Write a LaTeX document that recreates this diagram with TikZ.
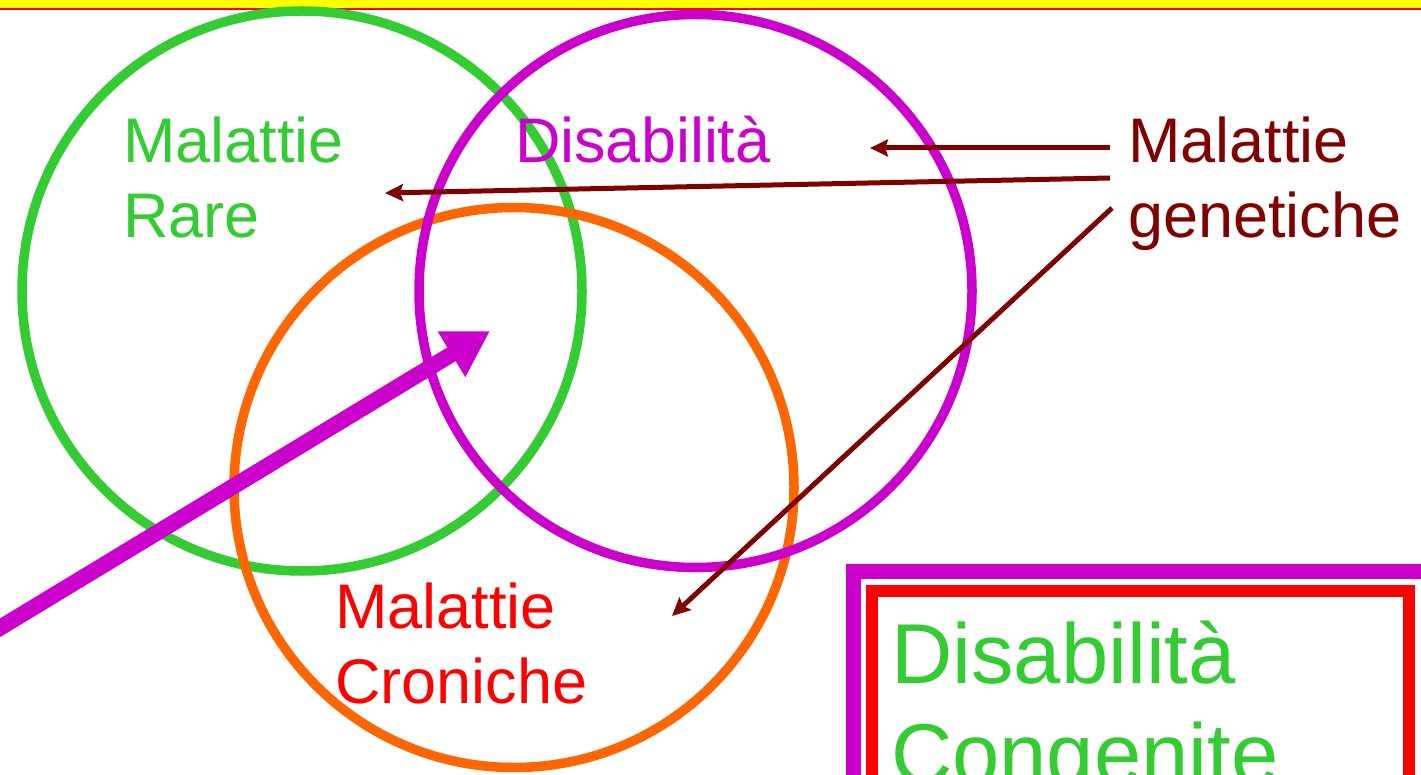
\documentclass[tikz,border=0pt]{standalone}
\usepackage{fontspec}
\setmainfont{Liberation Sans}
\usetikzlibrary{arrows.meta}
\definecolor{cgreen}{HTML}{33CC33}
\definecolor{cmag}{HTML}{CC00CC}
\definecolor{corange}{HTML}{FF6600}
\definecolor{cdred}{HTML}{800000}
\definecolor{cred}{HTML}{FF0000}
\definecolor{cyel}{HTML}{FFFF00}
\tikzset{
  ring/.style={line width=9.5pt},
  lbl/.style={anchor=base west, inner sep=0pt, outer sep=0pt, font=\fontsize{63}{75}\selectfont},
  biglbl/.style={anchor=base west, inner sep=0pt, outer sep=0pt, font=\fontsize{85}{100}\selectfont},
  genarrow/.style={draw=cdred, line width=5pt, -{Stealth[length=18pt,width=17pt,inset=3pt]}},
  bigarrow/.style={draw=cmag, line width=16pt, -{Triangle[length=45pt,width=50pt]}}
}
\begin{document}
\begin{tikzpicture}[x=1pt,y=-1pt]
\useasboundingbox (0,0) rectangle (1421,775);
\clip (0,0) rectangle (1421,775);
\fill[white] (0,0) rectangle (1421,775);
% top band
\fill[cyel] (0,0) rectangle (1421,8.5);
\draw[cred, line width=2.5pt] (0,9) -- (1421,9);
% circles
\draw[ring, cgreen] (302,291) circle[radius=280pt];
\draw[ring, corange] (514,487.5) circle[radius=280pt];
\draw[ring, cmag] (695.5,291) circle[radius=276.5pt];
% box
\draw[cmag, line width=15pt] (853,800) -- (853,571.5) -- (1440,571.5);
\draw[cred, line width=12pt] (872,800) -- (872,590.5) -- (1409,590.5) -- (1409,800);
% labels
\node[lbl, text=cgreen] (rare1) at (123,163) {Malattie};
\node[lbl, text=cgreen] (rare2) at (123,238) {Rare};
\node[lbl, text=cmag] (dis) at (515,163) {Disabilità};
\node[lbl, text=cdred] (gen1) at (1128,163) {Malattie};
\node[lbl, text=cdred] (gen2) at (1128,238) {genetiche};
\node[lbl, text=cred] (cron1) at (335,628) {Malattie};
\node[lbl, text=cred] (cron2) at (335,703) {Croniche};
\node[biglbl, text=cgreen] (cong1) at (891,683) {Disabilità};
\node[biglbl, text=cgreen] (cong2) at (891,783) {Congenite};
% arrows
\coordinate (g1) at (1110,148);
\coordinate (g2) at (1110,178);
\coordinate (g3) at (1112,208);
\coordinate (t1) at (870,148);
\coordinate (t2) at (385,193);
\coordinate (t3) at (672,616);
\draw[genarrow] (g1) -- (t1);
\draw[genarrow] (g2) -- (t2);
\draw[genarrow] (g3) -- (t3);
\coordinate (ms) at (-40,652);
\coordinate (mt) at (490,331);
\draw[bigarrow] (ms) -- (mt);
\end{tikzpicture}
\end{document}
